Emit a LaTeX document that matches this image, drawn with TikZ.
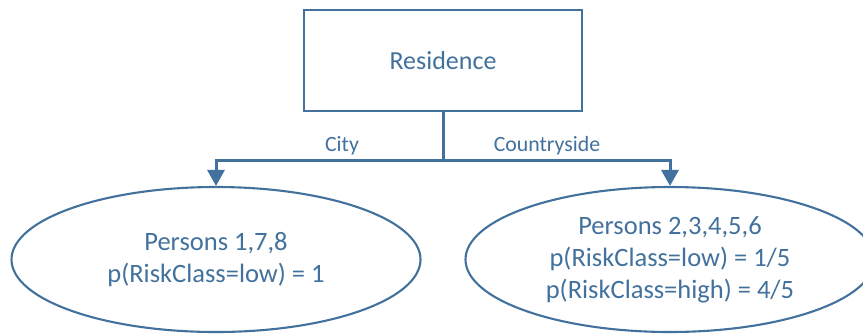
\documentclass[tikz,border=0pt]{standalone}
\usepackage{fontspec}
\setmainfont{Carlito}
\usetikzlibrary{shapes.geometric,arrows.meta}
\definecolor{steel}{HTML}{41719C}
\begin{document}
\begin{tikzpicture}[x=1pt,y=-1pt,
  decision/.style={draw=steel,line width=2.3pt,minimum width=278pt,minimum height=101pt,
    inner sep=0pt,text=steel,font=\fontsize{26}{31}\selectfont},
  leaf/.style={ellipse,draw=steel,line width=2.1pt,minimum width=409pt,minimum height=145pt,
    inner sep=0pt,align=center,text=steel,font=\fontsize{26.5}{32}\selectfont},
  branch/.style={draw=steel,line width=3pt},
  tip/.style={-{Triangle[width=17pt,length=16pt]}},
  edgelabel/.style={text=steel,font=\fontsize{21.8}{25}\selectfont,anchor=base}]
\clip (0,0) rectangle (863,333);
\node[decision] (res) at (443,60.5) {Residence};
\node[leaf] (city) at (216,259.5) {Persons 1,7,8\\p(RiskClass=low) = 1};
\node[leaf] (country) at (670,259.5) {Persons 2,3,4,5,6\\p(RiskClass=low) = 1/5\\p(RiskClass=high) = 4/5};
\coordinate (split) at (443,160);
\draw[branch] (res.south) -- (split);
\draw[branch,tip] (split) -| (city.north);
\draw[branch,tip] (split) -| (country.north);
\node[edgelabel] (lcity) at (342,151) {City};
\node[edgelabel] (lcountry) at (547,151) {Countryside};
\end{tikzpicture}
\end{document}
